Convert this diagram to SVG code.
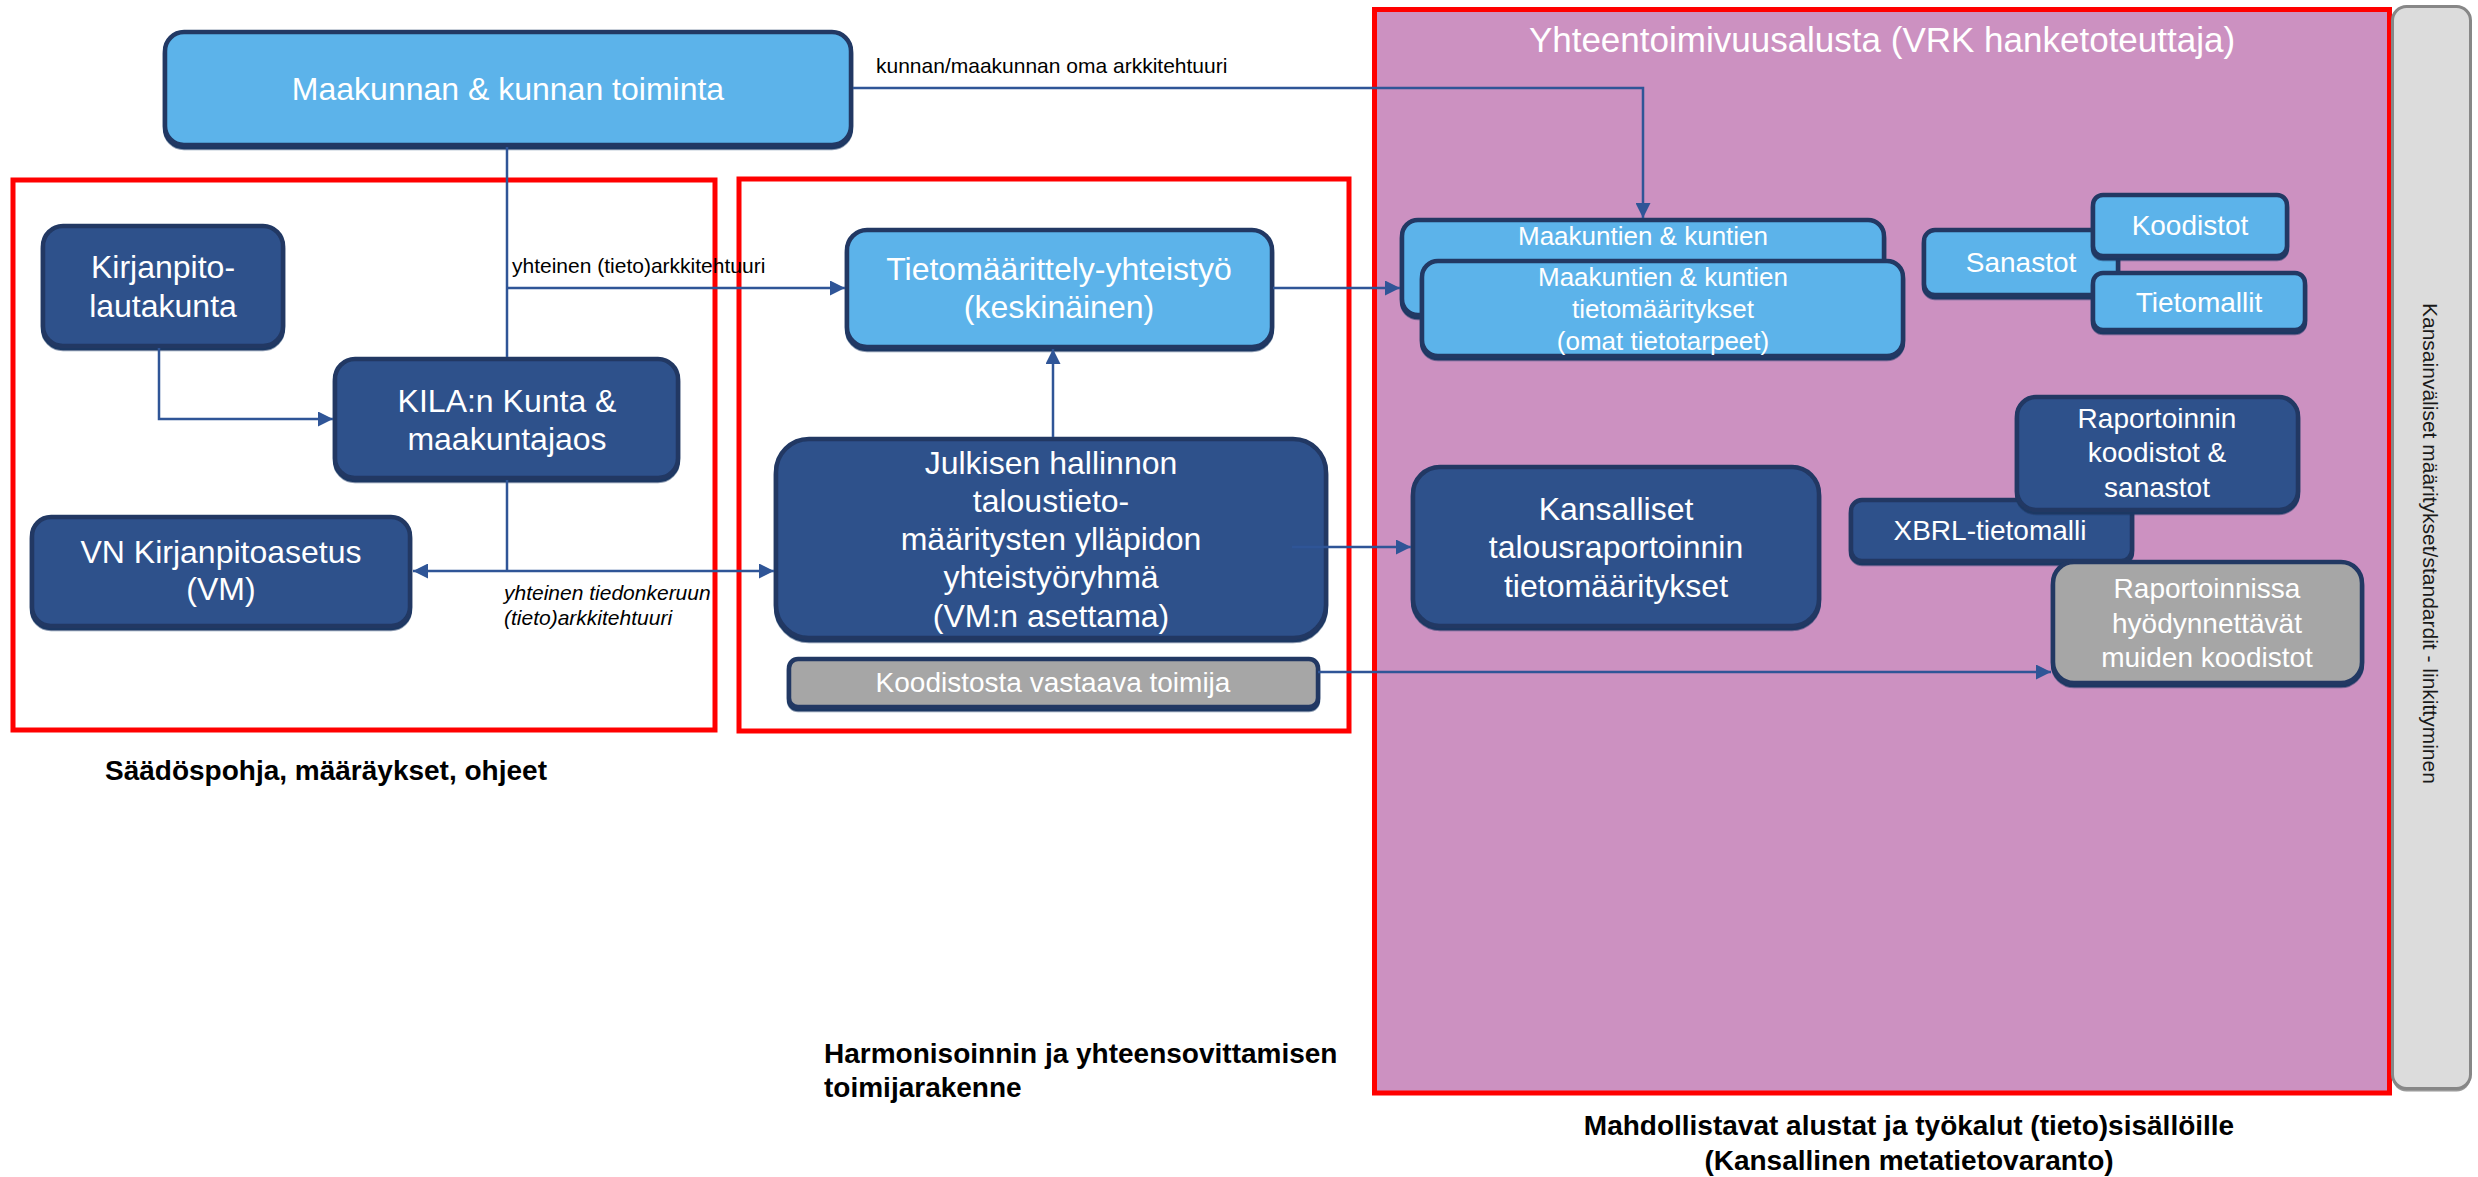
<svg xmlns="http://www.w3.org/2000/svg" width="2478" height="1177" viewBox="0 0 2478 1177">
<style>
text{font-family:"Liberation Sans",Arial,sans-serif}
.lb rect{fill:#5BB3EA;stroke:#203864;stroke-width:4.5;filter:url(#sh)}
.db rect{fill:#2F518B;stroke:#203864;stroke-width:4.5;filter:url(#sh)}
.gb rect{fill:#A6A6A6;stroke:#203864;stroke-width:4.5;filter:url(#sh)}
.nt{fill:#fff;text-anchor:middle}
.f32{font-size:32px}
.f28{font-size:28px}
.f26{font-size:26px}
.lbl{font-size:21px;fill:#000}
.it{font-style:italic}
.cap{font-size:28px;font-weight:bold;fill:#000}
.con path{fill:none;stroke:#2F5597;stroke-width:2.5}
.frame{fill:none;stroke:#FF0000;stroke-width:5}
</style>
<defs>
<filter id="sh" x="-5%" y="-5%" width="110%" height="120%">
<feDropShadow dx="0" dy="2.5" stdDeviation="0.4" flood-color="#1F3864" flood-opacity="1"/>
</filter>
<marker id="ah" viewBox="0 0 15 15" refX="15" refY="7.5" markerWidth="15" markerHeight="15" markerUnits="userSpaceOnUse" orient="auto-start-reverse">
<path d="M0,0 L15,7.5 L0,15 z" fill="#2F5597"/>
</marker>
</defs>
<rect width="2478" height="1177" fill="#fff"/>

<g id="frames">
<rect class="frame" x="13" y="180" width="702" height="550"/>
<rect class="frame" x="739" y="179" width="610" height="552"/>
<rect id="platform" x="1374.5" y="9.5" width="1015" height="1083.5" fill="#CC91C1" stroke="#FF0000" stroke-width="5"/>
<text x="1882" y="52" class="nt" style="font-size:35px">Yhteentoimivuusalusta (VRK hanketoteuttaja)</text>
</g>

<g id="intl">
<rect x="2392.5" y="9.5" width="78" height="1082" rx="14" fill="#9A9A9A"/>
<rect x="2392.5" y="6.5" width="78" height="1082" rx="14" fill="#DCDCDC" stroke="#878787" stroke-width="3"/>
<text x="2423" y="303" transform="rotate(90 2423 303)" style="font-size:21px;fill:#1a1a1a">Kansainväliset määritykset/standardit - linkittyminen</text>
</g>

<g id="n-maakunnan" class="lb">
<rect x="165" y="32" width="686" height="113" rx="19"/>
<text x="508" y="100" class="nt f32">Maakunnan &amp; kunnan toiminta</text>
</g>
<g id="n-kirjanpito" class="db">
<rect x="43" y="226" width="240" height="120" rx="20"/>
<text x="163" y="278" class="nt f32">Kirjanpito-</text>
<text x="163" y="317" class="nt f32">lautakunta</text>
</g>
<g id="n-kila" class="db">
<rect x="335" y="359" width="343" height="119" rx="20"/>
<text x="507" y="412" class="nt f32">KILA:n Kunta &amp;</text>
<text x="507" y="450" class="nt f32">maakuntajaos</text>
</g>
<g id="n-vn" class="db">
<rect x="32" y="517" width="378" height="109" rx="19"/>
<text x="221" y="563" class="nt f32">VN Kirjanpitoasetus</text>
<text x="221" y="600" class="nt f32">(VM)</text>
</g>
<g id="n-tietomaarittely" class="lb">
<rect x="847" y="230" width="425" height="117" rx="20"/>
<text x="1059" y="280" class="nt f32">Tietomäärittely-yhteistyö</text>
<text x="1059" y="318" class="nt f32">(keskinäinen)</text>
</g>
<g id="n-julkisen" class="db">
<rect x="776" y="439" width="550" height="199" rx="33"/>
<text x="1051" y="474" class="nt f32">Julkisen hallinnon</text>
<text x="1051" y="512" class="nt f32">taloustieto-</text>
<text x="1051" y="550" class="nt f32">määritysten ylläpidon</text>
<text x="1051" y="588" class="nt f32">yhteistyöryhmä</text>
<text x="1051" y="627" class="nt f32">(VM:n asettama)</text>
</g>
<g id="n-koodistosta" class="gb">
<rect x="789" y="659" width="529" height="48" rx="9"/>
<text x="1053" y="692" class="nt f28">Koodistosta vastaava toimija</text>
</g>
<g id="n-maakuntien1" class="lb">
<rect x="1402" y="220" width="482" height="95" rx="16"/>
<text x="1643" y="245" class="nt f26">Maakuntien &amp; kuntien</text>
</g>
<g id="n-maakuntien2" class="lb">
<rect x="1422" y="261" width="481" height="95" rx="16"/>
<text x="1663" y="286" class="nt f26">Maakuntien &amp; kuntien</text>
<text x="1663" y="318" class="nt f26">tietomääritykset</text>
<text x="1663" y="350" class="nt f26">(omat tietotarpeet)</text>
</g>
<g id="n-sanastot" class="lb">
<rect x="1924" y="230" width="194" height="65" rx="11"/>
<text x="2021" y="272" class="nt f28">Sanastot</text>
</g>
<g id="n-koodistot" class="lb">
<rect x="2093" y="195" width="194" height="61" rx="10"/>
<text x="2190" y="235" class="nt f28">Koodistot</text>
</g>
<g id="n-tietomallit" class="lb">
<rect x="2093" y="273" width="212" height="57" rx="10"/>
<text x="2199" y="312" class="nt f28">Tietomallit</text>
</g>
<g id="n-kansalliset" class="db">
<rect x="1413" y="467" width="406" height="159" rx="27"/>
<text x="1616" y="520" class="nt f32">Kansalliset</text>
<text x="1616" y="558" class="nt f32">talousraportoinnin</text>
<text x="1616" y="597" class="nt f32">tietomääritykset</text>
</g>
<g id="n-xbrl" class="db">
<rect x="1851" y="500" width="281" height="61" rx="11"/>
<text x="1990" y="540" class="nt f28">XBRL-tietomalli</text>
</g>
<g id="n-raportoinnin" class="db">
<rect x="2017" y="397" width="281" height="113" rx="19"/>
<text x="2157" y="428" class="nt f28">Raportoinnin</text>
<text x="2157" y="462" class="nt f28">koodistot &amp;</text>
<text x="2157" y="497" class="nt f28">sanastot</text>
</g>
<g id="n-raportoinnissa" class="gb">
<rect x="2053" y="562" width="309" height="121" rx="21"/>
<text x="2207" y="598" class="nt f28">Raportoinnissa</text>
<text x="2207" y="633" class="nt f28">hyödynnettävät</text>
<text x="2207" y="667" class="nt f28">muiden koodistot</text>
</g>

<g id="connectors" class="con">
<path d="M853,88 H1643 V218" marker-end="url(#ah)"/>
<path d="M507,147 V357"/>
<path d="M507,288 H845" marker-end="url(#ah)"/>
<path d="M159,348 V419 H333" marker-end="url(#ah)"/>
<path d="M507,480 V571"/>
<path d="M413,571 H774" marker-start="url(#ah)" marker-end="url(#ah)"/>
<path d="M1053,437 V349" marker-end="url(#ah)"/>
<path d="M1273,288 H1400" marker-end="url(#ah)"/>
<path d="M1292,547 H1411" marker-end="url(#ah)"/>
<path d="M1318,672 H2051" marker-end="url(#ah)"/>
</g>

<g id="labels">
<text x="876" y="73" class="lbl">kunnan/maakunnan oma arkkitehtuuri</text>
<text x="512" y="273" class="lbl">yhteinen (tieto)arkkitehtuuri</text>
<text x="504" y="600" class="lbl it">yhteinen tiedonkeruun</text>
<text x="504" y="625" class="lbl it">(tieto)arkkitehtuuri</text>
<text x="105" y="780" class="cap">Säädöspohja, määräykset, ohjeet</text>
<text x="824" y="1063" class="cap">Harmonisoinnin ja yhteensovittamisen</text>
<text x="824" y="1097" class="cap">toimijarakenne</text>
<text x="1909" y="1135" class="cap" text-anchor="middle">Mahdollistavat alustat ja työkalut (tieto)sisällöille</text>
<text x="1909" y="1170" class="cap" text-anchor="middle">(Kansallinen metatietovaranto)</text>
</g>
</svg>
